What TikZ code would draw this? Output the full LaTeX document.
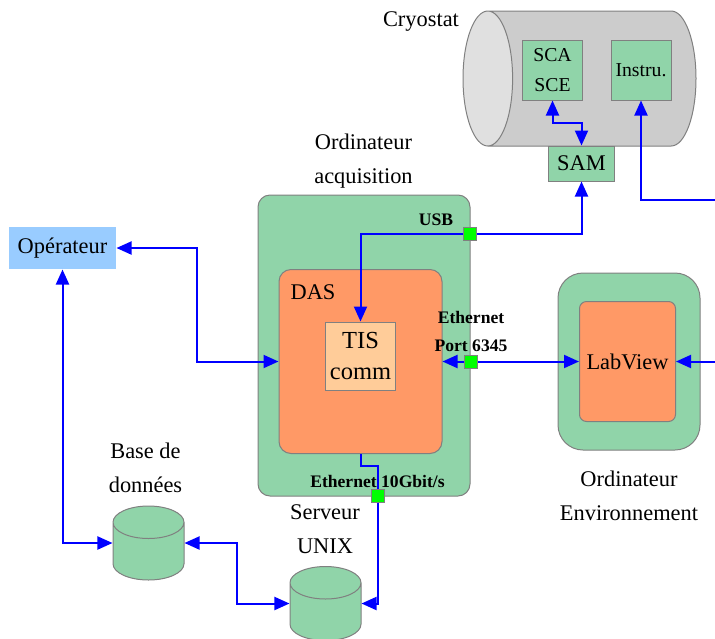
\documentclass[tikz,border=0pt]{standalone}
\usepackage{fontspec}
\setmainfont{Liberation Serif}
\usetikzlibrary{calc,positioning,shapes.geometric,arrows.meta}
\definecolor{boxgreen}{HTML}{90D4A9}
\definecolor{boxorange}{HTML}{FF9966}
\definecolor{boxpeach}{HTML}{FFCC99}
\definecolor{boxblue}{HTML}{99CCFF}
\definecolor{bordergray}{HTML}{808080}
\definecolor{portgreen}{HTML}{00FF00}
\begin{document}
\begin{tikzpicture}[x=1pt,y=-1pt]
\useasboundingbox (0,0) rectangle (715,638);
\clip (0,0) rectangle (715,638);
\tikzstyle{box}=[draw=bordergray, line width=1pt, inner sep=0pt, align=center, font=\fontsize{22.4}{34}\selectfont]
\tikzstyle{port}=[box, fill=portgreen, minimum width=13pt, minimum height=13pt]
\tikzstyle{base}=[box, inner xsep=25pt, inner ysep=2pt, shape=cylinder, shape border rotate=90, shape aspect=0.65, anchor=shape center, fill=boxgreen, minimum width=71pt, minimum height=74pt]
\tikzstyle{label}=[inner sep=0pt, align=center, font=\fontsize{22.4}{34}\selectfont]
\tikzstyle{tag}=[inner sep=0pt, align=center, font=\fontsize{17.6}{28}\selectfont\bfseries]
\tikzstyle{link}=[draw=blue, line width=2pt, -{Triangle[length=15pt,width=13pt]}]
\tikzstyle{linkboth}=[link, {Triangle[length=15pt,width=13pt]}-{Triangle[length=15pt,width=13pt]}]
\tikzstyle{wire}=[draw=blue, line width=2pt]
% cryostat
\node[box, inner xsep=2pt, inner ysep=47.7pt, shape=cylinder, shape border rotate=180, shape aspect=0.52, anchor=shape center, cylinder uses custom fill, cylinder body fill=black!20, cylinder end fill=black!12, minimum width=135pt, minimum height=233pt] (cryo) at (579.5,78.5) {};
\node[box, fill=boxgreen, minimum width=60pt, minimum height=60pt, font=\fontsize{19.7}{30}\selectfont] (sca) at (552.5,70) {SCA\\SCE};
\node[box, fill=boxgreen, minimum width=60pt, minimum height=60pt, font=\fontsize{19.7}{30}\selectfont] (instru) at (641,70) {Instru.};
\node[box, fill=boxgreen, minimum width=66pt, minimum height=35pt] (sam) at (581.5,163.5) {SAM};
% ordinateur acquisition
\node[box, fill=boxgreen, rounded corners=12pt, minimum width=212pt, minimum height=301pt] (acq) at (364,345.5) {};
\node[box, fill=boxorange, rounded corners=12pt, minimum width=163pt, minimum height=184pt] (das) at (360.5,361.5) {};
\node[box, fill=boxpeach, minimum width=70pt, minimum height=68pt, font=\fontsize{24.5}{31}\selectfont] (tis) at (360.5,356) {TIS\\comm};
\node[label] (daslabel) at (313,292) {DAS};
% ordinateur environnement
\node[box, fill=boxgreen, rounded corners=25pt, minimum width=142pt, minimum height=177pt] (env) at (629,361.5) {};
\node[box, fill=boxorange, rounded corners=7pt, minimum width=96pt, minimum height=120pt] (labview) at (627.5,361.5) {LabView};
% operateur et bases
\node[box, draw=none, fill=boxblue, minimum width=107pt, minimum height=42pt] (oper) at (62.5,248) {Opérateur};
\node[base] (db) at (148.5,543) {};
\node[base] (unix) at (325.5,603.5) {};
% ports
\node[port] (usb) at (470,233.5) {};
\node[port] (eth) at (471,361.5) {};
\node[port] (gbit) at (378,495.5) {};
\coordinate (instruout) at (715,200);
\coordinate (labviewout) at (715,361.5);
\coordinate (scajoin) at (552.5,123);
\coordinate (dasjoin) at (360.5,466);
\coordinate (operjoin) at (197,361.5);
\coordinate (basejoin) at (237,570);
\coordinate (dbleft) at (db.shape center -| db.west);
\coordinate (dbright) at (db.shape center -| db.east);
\coordinate (unixleft) at (unix.shape center -| unix.west);
\coordinate (unixright) at (unix.shape center -| unix.east);
% connectors
\draw[link] (usb) -| (tis.north);
\draw[link] (usb) -| (sam.south);
\draw[linkboth] (sca.south) -- (scajoin) -| (sam.north);
\draw[link] (instruout) -| (instru.south);
\draw[linkboth] (oper.east) -| (operjoin) -- (das.west);
\draw[linkboth] (oper.south) |- (dbleft);
\draw[linkboth] (dbright) -| (basejoin) |- (unixleft);
\draw[wire] (das.south) -- (dasjoin) -| (gbit.north);
\draw[link] (gbit.south) |- (unixright);
\draw[link] (eth) -- (das.east);
\draw[link] (eth) -- (labview.west);
\draw[link] (labviewout) -- (labview.east);
% labels
\node[label] (cryolabel) at (421,21) {Cryostat};
\node[label] (acqlabel) at (363.5,161) {Ordinateur\\acquisition};
\node[label] (dblabel) at (145.5,468) {Base de\\données};
\node[label] (unixlabel) at (325,529) {Serveur\\UNIX};
\node[label] (envlabel) at (629,496) {Ordinateur\\Environnement};
\node[tag] (usblabel) at (436,220) {USB};
\node[tag] (ethlabel) at (471,331) {Ethernet\\Port 6345};
\node[tag] (gbitlabel) at (377.5,481) {Ethernet 10Gbit/s};
\end{tikzpicture}
\end{document}
